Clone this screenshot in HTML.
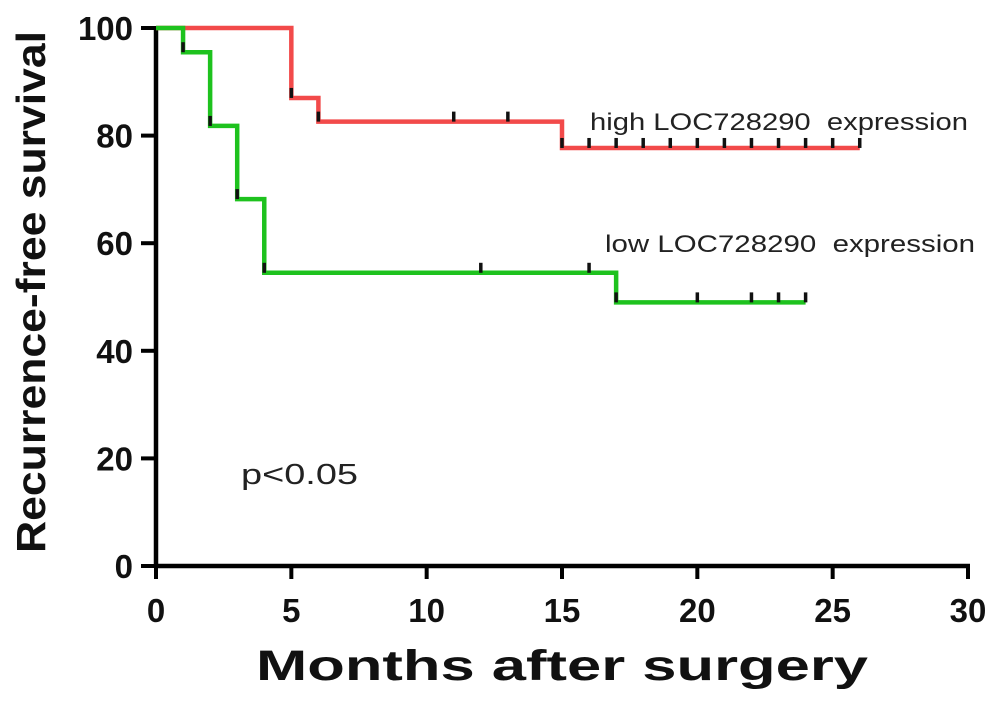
<!DOCTYPE html>
<html><head><meta charset="utf-8"><style>
body{margin:0;background:#fff}
svg text{font-family:"Liberation Sans",Arial,sans-serif;white-space:pre}
</style></head><body>
<svg id="chart" width="1007" height="700" xmlns="http://www.w3.org/2000/svg">
<g id="axes"></g>
<g id="series"></g>
<text transform="translate(45,292) rotate(-90)" text-anchor="middle" font-size="41" font-weight="bold" fill="#111" textLength="522" lengthAdjust="spacingAndGlyphs">Recurrence-free survival</text>
<text x="562" y="680" text-anchor="middle" font-size="43" font-weight="bold" fill="#111" textLength="612" lengthAdjust="spacingAndGlyphs">Months after surgery</text>
<text x="590" y="130" font-size="24" fill="#222" textLength="378" lengthAdjust="spacingAndGlyphs">high LOC728290  expression</text>
<text x="605" y="252" font-size="24" fill="#222" textLength="370" lengthAdjust="spacingAndGlyphs">low LOC728290  expression</text>
<text x="241" y="484" font-size="29" fill="#222" textLength="117" lengthAdjust="spacingAndGlyphs">p&lt;0.05</text>
</svg>
<script>
const xTicks=[0,5,10,15,20,25,30];
const yTicks=[0,20,40,60,80,100];
const highTimes=[0,5,6,15,26];
const highSurv=[100,87,82.6,77.7,77.7];
const highCensor=[5,6,11,13,15,16,17,18,19,20,21,22,23,24,25,26];
const lowTimes=[0,1,2,3,4,17,24];
const lowSurv=[100,95.5,81.8,68.2,54.5,49,49];
const lowCensor=[1,2,3,4,12,16,17,20,22,23,24];
const NS='http://www.w3.org/2000/svg';
const X=v=>156+v*(812/30), Y=v=>566-v*5.38;
function mk(t,a,p){const e=document.createElementNS(NS,t);for(const k in a)e.setAttribute(k,a[k]);p.appendChild(e);return e;}
const ax=document.getElementById('axes'), se=document.getElementById('series');
let l=mk('line',{x1:156,y1:Y(100)-2,x2:156,y2:568,stroke:'#000','stroke-width':4.5},ax);


l=mk('line',{x1:154,y1:566,x2:X(30)+2,y2:566,stroke:'#000','stroke-width':4.5},ax);


xTicks.forEach(v=>{
 const t=mk('line',{x1:X(v),y1:566,x2:X(v),y2:579,stroke:'#000','stroke-width':4},ax);
 
 
 const tx=mk('text',{x:X(v),y:622,'text-anchor':'middle','font-size':33,'font-weight':'bold',fill:'#111'},ax);
 tx.textContent=v;
 
 
});
yTicks.forEach(v=>{
 const t=mk('line',{x1:141,y1:Y(v),x2:156,y2:Y(v),stroke:'#000','stroke-width':4},ax);
 
 
 const tx=mk('text',{x:133,y:Y(v)+12,'text-anchor':'end','font-size':33,'font-weight':'bold',fill:'#111'},ax);
 tx.textContent=v;
 
 
});
function survAt(times,surv,t){let s=surv[0];for(let i=0;i<times.length;i++)if(times[i]<=t)s=surv[i];return s;}
function draw(times,surv,cens,color,name){
 let d='M'+X(times[0])+','+Y(surv[0]);
 for(let i=1;i<times.length;i++){d+=' H'+X(times[i])+' V'+Y(surv[i]);}
 const p=mk('path',{d:d,fill:'none',stroke:color,'stroke-width':4.5},se);
 
 
 cens.forEach(c=>{
  const y=Y(survAt(times,surv,c));
  const m=mk('line',{x1:X(c),y1:y-10,x2:X(c),y2:y,stroke:'#111','stroke-width':3.5},se);
  
  
 });
}
draw(highTimes,highSurv,highCensor,'#f24a4a','high');
draw(lowTimes,lowSurv,lowCensor,'#1ec21e','low');
</script>
</body></html>
